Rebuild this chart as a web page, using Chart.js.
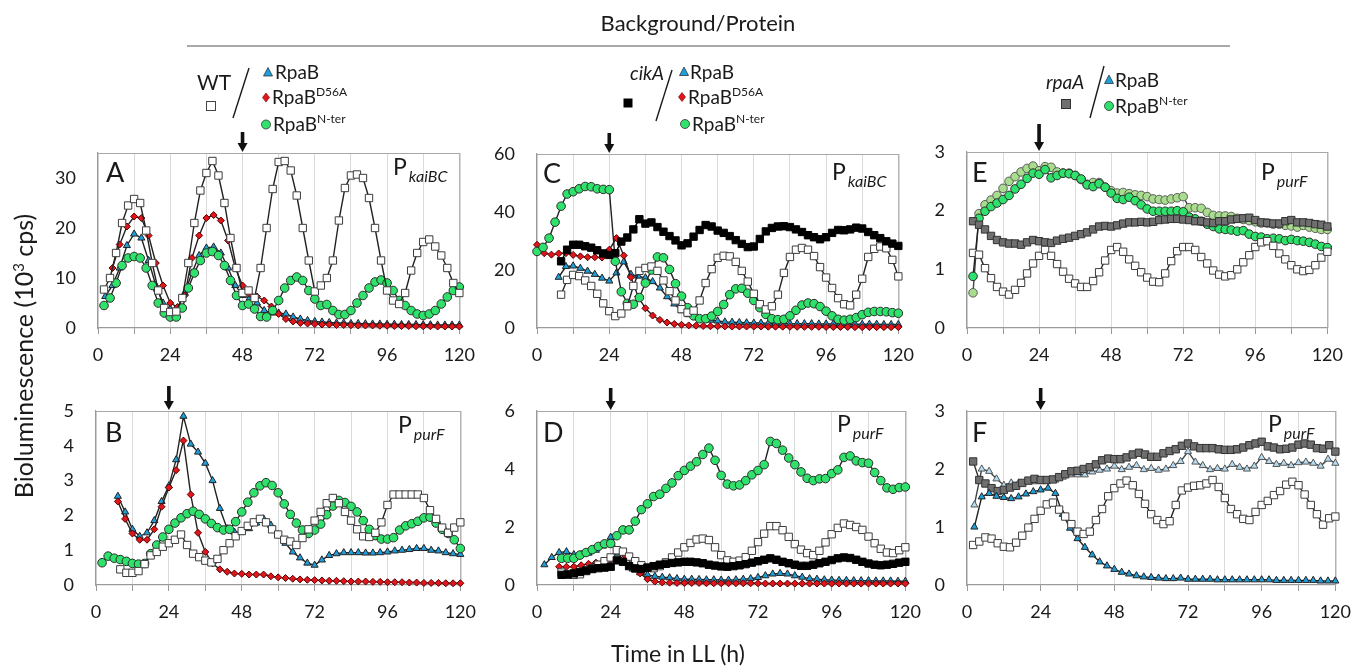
<!DOCTYPE html>
<html><head><meta charset="utf-8">
<script src="https://cdn.jsdelivr.net/npm/chart.js@4.4.1/dist/chart.umd.min.js"></script>
<style>
html,body{margin:0;padding:0;background:#fff;}
body{width:1356px;height:671px;position:relative;overflow:hidden;font-family:Lato,"Open Sans",sans-serif;}
canvas{position:absolute;}
#ov{position:absolute;left:0;top:0;z-index:5;pointer-events:none;}
</style></head><body>
<svg id="ov" width="1356" height="671">
<g font-family="Lato, 'Open Sans', sans-serif" fill="#1a1a1a">
<text x="698" y="31" font-size="22" text-anchor="middle">Background/Protein</text>
<line x1="187" y1="46" x2="1230" y2="46" stroke="#8c8c8c" stroke-width="1.5"/>
<text x="197" y="90" font-size="21">WT</text>
<rect x="206.5" y="101.5" width="9" height="9" fill="#fff" stroke="#444" stroke-width="1"/>
<line x1="233" y1="118" x2="249" y2="68" stroke="#1a1a1a" stroke-width="1.4"/>
<polygon points="268,67.5 272.5,76 263.5,76" fill="#1d9fdb" stroke="#222" stroke-width="0.7"/>
<text x="275" y="79" font-size="19">RpaB</text>
<polygon points="266,93 269.5,97.5 266,102 262.5,97.5" fill="#e3151c" stroke="#600" stroke-width="0.6"/>
<text x="272" y="104" font-size="19">RpaB<tspan font-size="12" dy="-8">D56A</tspan></text>
<circle cx="266" cy="124.5" r="4.5" fill="#2fe26b" stroke="#333" stroke-width="0.8"/>
<text x="273" y="131" font-size="19">RpaB<tspan font-size="12" dy="-8">N-ter</tspan></text>

<text x="630" y="80" font-size="19" font-style="italic">cikA</text>
<rect x="623.5" y="98.5" width="9" height="9" fill="#000"/>
<line x1="656" y1="121" x2="672" y2="70" stroke="#1a1a1a" stroke-width="1.4"/>
<polygon points="684,67 688.5,75.5 679.5,75.5" fill="#1d9fdb" stroke="#222" stroke-width="0.7"/>
<text x="690" y="79" font-size="19">RpaB</text>
<polygon points="682,92.5 685.5,97 682,101.5 678.5,97" fill="#e3151c" stroke="#600" stroke-width="0.6"/>
<text x="688" y="104" font-size="19">RpaB<tspan font-size="12" dy="-8">D56A</tspan></text>
<circle cx="685" cy="124" r="4.5" fill="#2fe26b" stroke="#333" stroke-width="0.8"/>
<text x="692" y="131" font-size="19">RpaB<tspan font-size="12" dy="-8">N-ter</tspan></text>

<text x="1046" y="89" font-size="19" font-style="italic">rpaA</text>
<rect x="1061.5" y="99.5" width="9" height="9" fill="#6f6f6f" stroke="#333" stroke-width="1"/>
<line x1="1090" y1="118" x2="1104" y2="66" stroke="#1a1a1a" stroke-width="1.4"/>
<polygon points="1109,75 1113.5,83.5 1104.5,83.5" fill="#1d9fdb" stroke="#222" stroke-width="0.7"/>
<text x="1115" y="87" font-size="19">RpaB</text>
<circle cx="1109" cy="106" r="4.5" fill="#2fe26b" stroke="#333" stroke-width="0.8"/>
<text x="1115" y="113" font-size="19">RpaB<tspan font-size="12" dy="-8">N-ter</tspan></text>

<text x="106" y="182" font-size="27">A</text>
<text x="105" y="442" font-size="27">B</text>
<text x="543" y="183" font-size="27">C</text>
<text x="543" y="442" font-size="27">D</text>
<text x="972" y="182" font-size="27">E</text>
<text x="972" y="442" font-size="27">F</text>
<text x="393" y="175" font-size="23">P<tspan font-size="16" font-style="italic" dx="2" dy="7">kaiBC</tspan></text>
<text x="398" y="433" font-size="23">P<tspan font-size="16" font-style="italic" dx="2" dy="7">purF</tspan></text>
<text x="832" y="180" font-size="23">P<tspan font-size="16" font-style="italic" dx="2" dy="7">kaiBC</tspan></text>
<text x="837" y="432" font-size="23">P<tspan font-size="16" font-style="italic" dx="2" dy="7">purF</tspan></text>
<text x="1261" y="180" font-size="23">P<tspan font-size="16" font-style="italic" dx="2" dy="7">purF</tspan></text>
<text x="1268" y="432" font-size="23">P<tspan font-size="16" font-style="italic" dx="2" dy="7">purF</tspan></text>

<text transform="translate(33,356) rotate(-90)" font-size="25" text-anchor="middle">Bioluminescence (10<tspan font-size="15" dy="-9">3</tspan><tspan dy="9"> cps)</tspan></text>
<text x="678" y="662" font-size="23" text-anchor="middle">Time in LL (h)</text>
</g>
</svg>
<script>
// ---------------- DATA ----------------
const T2 = [0,2,4,6,8,10,12,14,16,18,20,22,24,26,28,30,32,34,36,38,40,42,44,46,48,50,52,54,56,58,60,62,64,66,68,70,72,74,76,78,80,82,84,86,88,90,92,94,96,98,100,102,104,106,108,110,112,114,116,118,120];
const T24 = [0,2.4,4.8,7.2,9.6,12,14.4,16.8,19.2,21.6,24,26.4,28.8,31.2,33.6,36,38.4,40.8,43.2,45.6,48,50.4,52.8,55.2,57.6,60,62.4,64.8,67.2,69.6,72,74.4,76.8,79.2,81.6,84,86.4,88.8,91.2,93.6,96,98.4,100.8,103.2,105.6,108,110.4,112.8,115.2,117.6,120];
const X_TICKS = [0,12,24,36,48,60,72,84,96,108,120];
const X_LABELS = [0,24,48,72,96,120];
const YT_A = [0,10,20,30], YT_B = [0,1,2,3,4,5], YT_C = [0,20,40,60], YT_D = [0,2,4,6], YT_E = [0,1,2,3], YT_F = [0,1,2,3];

// Panel A  (PkaiBC, WT background)
const A_WT = [null,7.7,10,15,21,24.5,25.8,25,19.5,13,7.5,4,3.2,3.3,6,13,21,27.5,31,33.4,30.5,25,18,12,7,7.5,6,12,20,27.8,33.2,33.4,31.5,26.5,20,13.5,7.3,8.5,10,13.5,21.5,28,30.5,30.7,30,26,20,13.5,7.5,5.5,4.8,7,11.5,15,17.2,17.7,16.3,14.5,12,9,7];
const A_RPAB = [null,6.3,8.5,12,16.5,18.8,18,13.5,8.5,5,3.8,4,7,11,14.5,16,16.2,15,12,8.5,6.5,6,5,3.5,3,3,2.8,2.2,1.8,1.5,1.3,1.2,1.1,1.0,1.0,0.9,0.9,0.85,0.8,0.8,0.75,0.75,0.7,0.7,0.7,0.65,0.65,0.6,0.6,0.6,0.6];
const A_D56A = [null,null,12,16.7,20.3,22.3,22,18.5,13,8.5,5,4.2,6.5,14,18.5,22,22.6,21.5,17.5,12,8.5,6.8,6.3,5.5,4.3,2.8,1.8,1.3,1.0,0.9,0.8,0.7,0.7,0.6,0.6,0.55,0.5,0.5,0.5,0.45,0.45,0.4,0.4,0.4,0.35,0.35,0.35,0.3,0.3,0.3,0.3];
const A_NTER = [null,4.5,6,9,12.5,14,14.3,14,12,8.5,5,3,2.2,2.2,4,8,11,13.5,15,15.3,14.5,12.5,9.5,6.5,4.5,4.8,3.8,2.3,2.2,3.5,5.5,8,9.5,10.2,9.5,7.5,5.8,4.5,4.7,3.5,2.7,2.7,3.5,5,6.5,8,9.2,9.6,9,7.5,5.5,4.5,3.5,2.8,2.5,2.8,3.5,4.8,6.2,7.5,8.2];

// Panel B  (PpurF, WT background)
const B_WT = [null,null,null,null,0.45,0.35,0.35,0.4,0.6,0.85,0.95,1.1,1.2,1.3,1.45,1.15,0.9,0.8,0.7,0.65,0.75,1.0,1.2,1.4,1.55,1.7,1.8,1.9,1.8,1.6,1.45,1.3,1.25,1.15,1.35,1.6,1.85,2.1,2.35,2.5,2.35,2.1,1.85,1.6,1.4,1.38,1.5,1.8,2.3,2.6,2.6,2.6,2.6,2.6,2.5,2.15,1.9,1.65,1.5,1.65,1.8];
const B_RPAB = [null,null,null,2.55,2.1,1.6,1.4,1.5,1.85,2.4,2.85,3.6,4.85,4.05,3.82,3.5,3.0,2.2,1.62,1.52,1.52,1.62,1.78,1.9,1.72,1.45,1.2,0.95,0.78,0.63,0.57,0.72,0.85,0.9,0.93,0.93,0.93,0.92,0.92,0.93,0.95,0.98,1.0,1.02,1.05,1.05,1.0,0.98,0.93,0.9,0.88];
const B_D56A = [null,null,null,2.4,1.9,1.48,1.3,1.3,1.6,2.25,2.8,3.3,4.15,2.6,1.5,0.95,0.62,0.45,0.38,0.33,0.32,0.3,0.3,0.3,0.25,0.22,0.2,0.18,0.16,0.15,0.14,0.13,0.12,0.12,0.11,0.1,0.1,0.1,0.09,0.09,0.08,0.08,0.08,0.07,0.07,0.06,0.06,0.06,0.05,0.05,0.05];
const B_NTER = [null,0.64,0.83,0.77,0.73,0.68,0.62,0.6,0.62,0.9,1.15,1.38,1.6,1.78,1.93,2.05,2.12,2.03,1.9,1.77,1.65,1.58,1.6,1.82,2.1,2.38,2.65,2.85,2.94,2.86,2.65,2.33,2.03,1.78,1.58,1.48,1.58,1.75,2.02,2.27,2.43,2.37,2.26,2.1,1.85,1.6,1.42,1.32,1.32,1.36,1.58,1.7,1.76,1.83,1.93,1.95,1.78,1.6,1.48,1.3,1.05];

// Panel C  (PkaiBC, cikA background)
const C_WT = [null,null,null,null,11.5,16.6,18.3,17.9,16.4,14.5,11.8,8.5,5.8,4.1,5,7.5,14.5,19.7,20.7,21.2,19.7,16.4,12.7,9.5,6.5,5.3,6,9.5,15.5,20.3,24.2,24.9,24.7,22.8,19.7,16,11.8,8.2,6.4,7.5,11.5,19,24.5,27,27.6,27,24.8,21,17.4,13.8,10.3,8.2,7.8,11.5,17,24.5,27.3,28.1,27.5,23.5,17.8];
const C_CIKA = [null,null,null,null,23,27,28.7,28.7,28.2,27.7,26.8,25.7,25.2,25.8,29.8,31.2,34,37.5,36,36.4,34.8,33.2,31.7,30.2,28.5,29.2,31.5,33.8,35.5,35,33.6,32.8,31.7,30.3,29,27.9,28.1,30.7,33.3,34.5,35,35.1,34.8,34,33.1,32,31.3,30.6,31.3,32.8,33.8,33.7,34,34.6,34.3,33.1,32,31,29.9,29.1,28.3];
const C_RPAB = [null,null,null,17.5,21.2,21.4,20.6,19.6,18.5,17.2,16.2,19,22.8,18.5,17.9,17.3,16,13.8,10.8,8.3,6,4.6,3.6,3,2.7,2.4,2.1,2.0,1.9,1.8,1.7,1.7,1.6,1.6,1.6,1.5,1.5,1.5,1.5,1.4,1.4,1.4,1.4,1.3,1.3,1.3,1.3,1.3,1.2,1.2,1.2];
const C_D56A = [28.7,25.8,25.3,25.7,25.8,25.2,24.7,24.4,24.4,24.3,27,31,25,17.5,10.8,6.8,4.3,2.8,1.9,1.4,1.1,0.9,0.8,0.7,0.6,0.6,0.55,0.5,0.5,0.5,0.5,0.5,0.45,0.45,0.45,0.4,0.4,0.4,0.4,0.4,0.35,0.35,0.35,0.35,0.3,0.3,0.3,0.3,0.3,0.3,0.3];
const C_NTER = [26.4,27.8,31,36.5,42,46.2,47,48,48.8,48.7,48,47.8,47.7,23,12.5,8.5,8.2,10.5,15.5,20,24.5,24.2,20.2,15.3,11,7,4.2,3.2,3.2,4.1,5.7,8.1,11.5,13.5,13.7,12,9.5,7,4.7,3.2,2.9,3,4.2,6.1,7.9,8.6,8.4,7.4,5.8,4.2,3,2.7,3,3.6,4.6,5.4,5.7,5.7,5.6,5.3,5.1];

// Panel D  (PpurF, cikA background)
const D_WT = [null,null,null,null,0.43,0.38,0.35,0.37,0.48,0.58,0.7,0.82,0.95,1.2,1.15,0.98,0.82,0.68,0.6,0.58,0.65,0.78,0.95,1.12,1.3,1.45,1.57,1.6,1.55,1.3,1.03,0.85,0.8,0.84,0.96,1.18,1.48,1.77,2.03,2.03,1.89,1.66,1.41,1.22,1.1,1.03,1.18,1.47,1.75,1.97,2.12,2.07,2.0,1.9,1.67,1.44,1.25,1.12,1.1,1.2,1.3];
const D_CIKA = [null,null,null,null,0.35,0.36,0.4,0.45,0.5,0.55,0.58,0.6,0.63,0.85,0.8,0.65,0.57,0.55,0.6,0.65,0.7,0.73,0.76,0.78,0.8,0.8,0.78,0.75,0.7,0.67,0.64,0.63,0.65,0.68,0.72,0.77,0.82,0.87,0.92,0.87,0.8,0.75,0.7,0.66,0.66,0.7,0.75,0.8,0.86,0.92,0.95,0.93,0.87,0.8,0.74,0.7,0.68,0.7,0.73,0.77,0.8];
const D_RPAB = [null,0.7,0.95,1.12,1.15,1.05,1.05,1.1,1.2,1.35,1.65,1.1,0.75,0.55,0.42,0.35,0.3,0.27,0.25,0.22,0.2,0.2,0.19,0.18,0.18,0.17,0.17,0.18,0.2,0.22,0.26,0.32,0.38,0.4,0.38,0.32,0.27,0.22,0.2,0.18,0.17,0.16,0.16,0.15,0.15,0.15,0.14,0.14,0.14,0.13,0.13];
const D_D56A = [null,null,null,0.63,0.63,0.63,0.68,0.73,0.77,0.8,0.87,1.2,1.0,0.68,0.4,0.2,0.12,0.09,0.08,0.07,0.07,0.07,0.07,0.06,0.06,0.06,0.06,0.06,0.06,0.06,0.06,0.05,0.05,0.05,0.05,0.05,0.05,0.05,0.05,0.05,0.05,0.05,0.05,0.05,0.05,0.05,0.05,0.05,0.05,0.05,0.05];
const D_NTER = [null,null,null,null,0.92,0.92,0.92,1.03,1.12,1.22,1.33,1.42,1.43,1.7,1.9,1.9,2.2,2.6,2.8,3.05,3.13,3.33,3.52,3.77,3.95,4.1,4.25,4.5,4.72,4.3,3.78,3.48,3.42,3.45,3.6,3.8,3.95,4.15,4.95,4.88,4.65,4.38,4.15,3.9,3.68,3.6,3.66,3.67,3.84,3.97,4.4,4.45,4.28,4.22,4.2,3.88,3.6,3.35,3.3,3.36,3.38];

// Panel E  (PpurF, rpaA background)
const E_WT = [null,1.28,1.25,1.02,0.85,0.7,0.62,0.57,0.65,0.77,0.93,1.1,1.23,1.33,1.23,1.09,0.96,0.84,0.76,0.7,0.7,0.8,0.95,1.15,1.33,1.38,1.3,1.17,1.06,0.95,0.86,0.79,0.78,0.93,1.14,1.31,1.38,1.38,1.33,1.21,1.1,0.98,0.91,0.88,0.9,1.0,1.12,1.24,1.38,1.46,1.48,1.4,1.27,1.17,1.07,1.0,0.97,0.99,1.07,1.2,1.3];
const E_RPAA = [null,1.82,1.76,1.68,1.57,1.5,1.46,1.44,1.44,1.42,1.46,1.5,1.48,1.46,1.45,1.49,1.52,1.54,1.57,1.6,1.63,1.68,1.73,1.74,1.73,1.75,1.78,1.8,1.8,1.81,1.8,1.81,1.84,1.85,1.86,1.86,1.85,1.84,1.82,1.82,1.8,1.79,1.82,1.82,1.85,1.86,1.87,1.88,1.84,1.8,1.79,1.78,1.78,1.82,1.84,1.8,1.8,1.79,1.77,1.76,1.73];
const E_NTER = [null,0.88,1.87,1.99,2.07,2.13,2.19,2.26,2.37,2.45,2.55,2.64,2.62,2.7,2.56,2.6,2.64,2.63,2.6,2.54,2.44,2.41,2.46,2.4,2.3,2.21,2.19,2.23,2.17,2.1,2.03,1.99,1.99,1.99,1.99,2.0,1.98,1.89,1.86,1.82,1.77,1.73,1.69,1.68,1.67,1.65,1.66,1.6,1.56,1.55,1.52,1.53,1.52,1.49,1.51,1.49,1.48,1.46,1.43,1.39,1.37];
const E_NTER_2 = [null,0.6,1.95,2.1,2.18,2.26,2.38,2.5,2.58,2.66,2.72,2.76,2.68,2.75,2.74,2.66,2.64,2.64,2.6,2.53,2.45,2.48,2.48,2.4,2.34,2.3,2.31,2.29,2.27,2.26,2.24,2.2,2.19,2.18,2.2,2.22,2.24,2.05,2.05,2.04,1.97,1.92,1.91,1.91,1.9,1.87,1.85,1.83,1.81,1.79,1.79,1.77,1.77,1.75,1.74,1.72,1.75,1.72,1.7,1.68,1.68];

// Panel F  (PpurF, rpaA background)
const F_WT = [null,0.69,0.75,0.82,0.8,0.72,0.66,0.65,0.73,0.85,0.99,1.14,1.28,1.39,1.42,1.3,1.18,1.05,0.92,0.88,0.92,1.12,1.31,1.53,1.67,1.75,1.8,1.72,1.57,1.4,1.22,1.12,1.05,1.1,1.38,1.63,1.68,1.71,1.72,1.75,1.81,1.69,1.5,1.31,1.22,1.14,1.12,1.26,1.38,1.45,1.55,1.62,1.73,1.78,1.72,1.56,1.38,1.22,1.04,1.15,1.18];
const F_RPAA = [null,2.13,1.81,1.75,1.67,1.62,1.64,1.68,1.71,1.76,1.8,1.83,1.81,1.81,1.82,1.86,1.91,1.96,1.97,2.0,2.03,2.08,2.15,2.18,2.17,2.17,2.2,2.25,2.28,2.25,2.21,2.21,2.27,2.31,2.34,2.4,2.44,2.39,2.36,2.36,2.36,2.34,2.33,2.33,2.34,2.37,2.41,2.44,2.47,2.39,2.37,2.34,2.35,2.37,2.42,2.44,2.42,2.36,2.35,2.41,2.3];
const F_RPAB_2 = [null,1.38,2.0,1.96,1.83,1.72,1.76,1.76,1.78,1.78,1.8,1.8,1.81,1.86,1.9,1.9,1.9,1.95,1.98,2.0,2.05,1.99,2.03,2.06,1.99,2.01,1.98,2.0,2.06,2.13,2.3,2.12,2.06,1.99,2.01,2.0,2.08,2.03,2.0,2.05,2.2,2.13,2.08,2.1,2.06,2.11,2.12,2.1,2.05,2.17,2.1];
const F_RPAB = [null,1.0,1.52,1.58,1.53,1.51,1.49,1.52,1.57,1.61,1.64,1.67,1.58,1.22,0.98,0.8,0.65,0.52,0.4,0.33,0.27,0.22,0.19,0.16,0.14,0.13,0.12,0.11,0.11,0.12,0.1,0.1,0.1,0.1,0.09,0.09,0.09,0.09,0.09,0.09,0.09,0.09,0.08,0.08,0.08,0.08,0.08,0.08,0.07,0.07,0.07];

// ---------------- STYLES / LAYOUT ----------------
const STYLE = {
  wt:    {ps:'rect',     r:5.2, bg:'#ffffff', pb:'#3c3c3c', line:'#222222'},
  cika:  {ps:'rect',     r:5.2, bg:'#000000', pb:'#000000', line:'#000000'},
  rpaa:  {ps:'rect',     r:5.2, bg:'#6f6f6f', pb:'#333333', line:'#333333'},
  rpab:  {ps:'triangle', r:4.1, bg:'#1d9fdb', pb:'#222222', line:'#222222'},
  rpab2: {ps:'triangle', r:4.1, bg:'#b3dbf1', pb:'#555555', line:'#444444'},
  d56a:  {ps:'rectRot',  r:3.5, bg:'#e3151c', pb:'#5a0000', line:'#222222'},
  nter:  {ps:'circle',   r:4.3, bg:'#2fe26b', pb:'#2b2b2b', line:'#222222'},
  nter2: {ps:'circle',   r:4.3, bg:'#a7dd8c', pb:'#5a5a5a', line:'#444444'}
};
const YW = 60, PT = 34, PR = 24, XH = 45;
const PANELS = [
  {box:[98,461,153,328], max:35, yt:YT_A, arrow:48, len:20, series:[['wt',T2,A_WT],['nter',T2,A_NTER],['d56a',T24,A_D56A],['rpab',T24,A_RPAB]]},
  {box:[96,462,411,585], max:5,  yt:YT_B, arrow:24, len:24, series:[['wt',T2,B_WT],['nter',T2,B_NTER],['d56a',T24,B_D56A],['rpab',T24,B_RPAB]]},
  {box:[537,900,154,328], max:60, yt:YT_C, arrow:24, len:20, series:[['cika',T2,C_CIKA],['wt',T2,C_WT],['nter',T2,C_NTER],['d56a',T24,C_D56A],['rpab',T24,C_RPAB]]},
  {box:[537,907,411,585], max:6,  yt:YT_D, arrow:24, len:22, series:[['cika',T2,D_CIKA],['wt',T2,D_WT],['nter',T2,D_NTER],['d56a',T24,D_D56A],['rpab',T24,D_RPAB]]},
  {box:[967,1329,152,328], max:3, yt:YT_E, arrow:24, len:27, series:[['wt',T2,E_WT],['rpaa',T2,E_RPAA],['nter',T2,E_NTER],['nter2',T2,E_NTER_2]]},
  {box:[967,1337,411,585], max:3, yt:YT_F, arrow:24, len:22, series:[['wt',T2,F_WT],['rpab',T24,F_RPAB],['rpaa',T2,F_RPAA],['rpab2',T24,F_RPAB_2]]}
];

Chart.defaults.font.family = "Lato, 'Open Sans', sans-serif";

const framePlugin = {
  id: 'frame',
  beforeDatasetsDraw(chart, args, opts) {
    const {ctx, chartArea: a} = chart;
    ctx.save();
    ctx.strokeStyle = '#a8a8a8';
    ctx.lineWidth = 1.2;
    ctx.beginPath();
    ctx.moveTo(a.left, a.top + 0.5);
    ctx.lineTo(a.right + 0.5, a.top + 0.5);
    ctx.lineTo(a.right + 0.5, a.bottom);
    ctx.stroke();
    if (opts.arrow != null) {
      const x = chart.scales.x.getPixelForValue(opts.arrow);
      const tip = a.top - 1, len = opts.len || 20;
      ctx.fillStyle = '#111';
      ctx.fillRect(x - 1.8, tip - len, 3.6, len - 7);
      ctx.beginPath();
      ctx.moveTo(x - 5, tip - 9);
      ctx.lineTo(x + 5, tip - 9);
      ctx.lineTo(x, tip);
      ctx.closePath();
      ctx.fill();
    }
    ctx.restore();
  }
};

function makeDataset(key, times, values) {
  const s = STYLE[key];
  return {
    data: times.map((t, i) => ({x: t, y: values[i]})),
    borderColor: s.line, borderWidth: 1.4, tension: 0,
    pointStyle: s.ps, pointRadius: s.r, pointBackgroundColor: s.bg,
    pointBorderColor: s.pb, pointBorderWidth: 1, clip: 10, spanGaps: false
  };
}

PANELS.forEach(p => {
  const [L, R, T, B] = p.box;
  const w = R - L + YW + PR, h = B - T + PT + XH;
  const cv = document.createElement('canvas');
  cv.width = w; cv.height = h;
  cv.style.left = (L - YW) + 'px'; cv.style.top = (T - PT) + 'px';
  cv.style.width = w + 'px'; cv.style.height = h + 'px';
  document.body.insertBefore(cv, document.getElementById('ov'));
  new Chart(cv.getContext('2d'), {
    type: 'line',
    data: {datasets: p.series.map(([k, t, v]) => makeDataset(k, t, v))},
    options: {
      responsive: false, animation: false, events: [],
      layout: {padding: {left: 0, top: PT, right: PR, bottom: 0}},
      plugins: {legend: {display: false}, tooltip: {enabled: false}, frame: {arrow: p.arrow, len: p.len}},
      scales: {
        x: {
          type: 'linear', min: 0, max: 120,
          afterBuildTicks: s => { s.ticks = X_TICKS.map(v => ({value: v})); },
          afterFit: s => { s.height = XH; },
          ticks: {autoSkip: false, maxRotation: 0, minRotation: 0, padding: 10, color: '#1a1a1a', font: {size: 18},
                  callback: v => X_LABELS.includes(v) ? String(v) : ''},
          grid: {color: '#dadada', tickColor: '#9a9a9a', tickLength: 6, lineWidth: 1},
          border: {color: '#9a9a9a', width: 1.2}
        },
        y: {
          type: 'linear', min: 0, max: p.max,
          afterBuildTicks: s => { s.ticks = p.yt.map(v => ({value: v})); },
          afterFit: s => { s.width = YW; },
          ticks: {padding: 22, color: '#1a1a1a', font: {size: 18}},
          grid: {display: false, drawTicks: false},
          border: {color: '#9a9a9a', width: 1.2}
        }
      }
    },
    plugins: [framePlugin]
  });
});
</script>
</body></html>
